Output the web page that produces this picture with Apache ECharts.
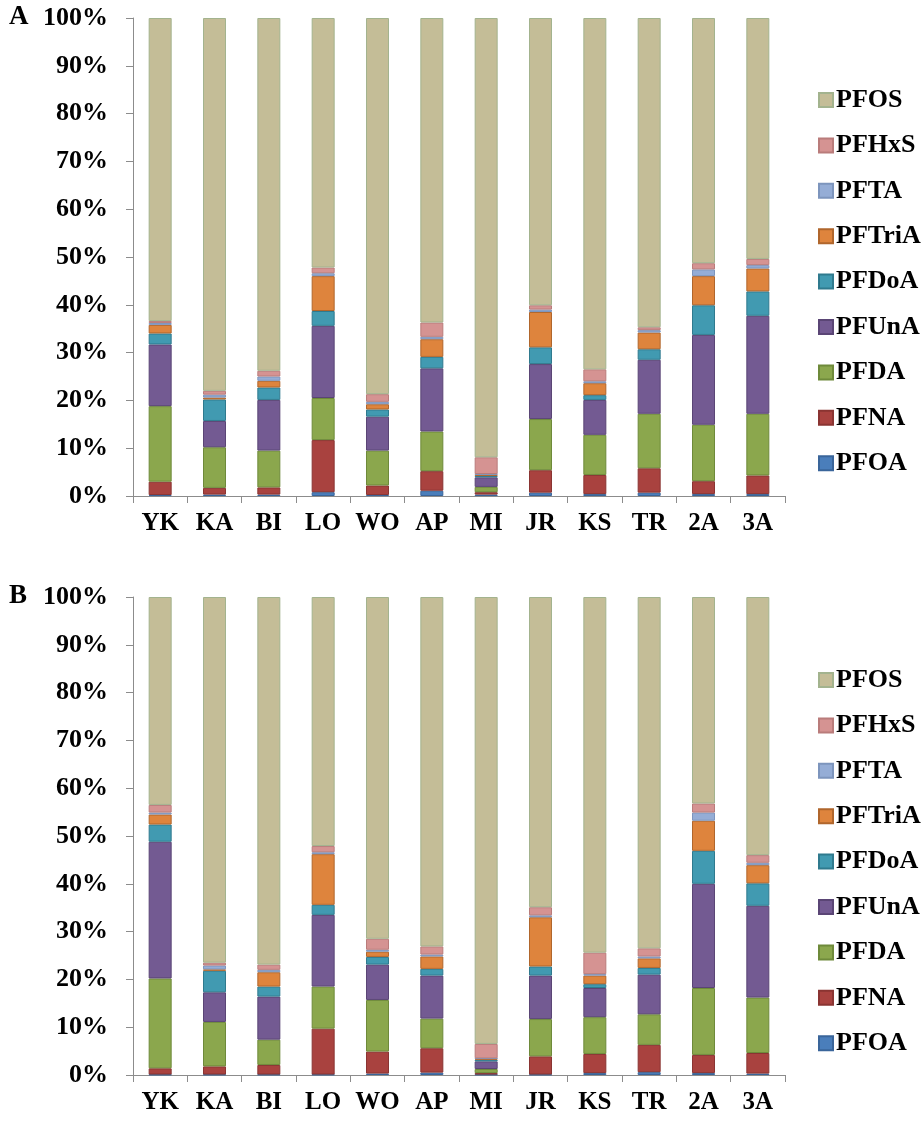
<!DOCTYPE html>
<html>
<head>
<meta charset="utf-8">
<script src="https://cdn.jsdelivr.net/npm/echarts@6/dist/echarts.min.js"></script>
<style>
html,body{margin:0;padding:0;background:#fff;}
#chart{width:922px;height:1121px;}
</style>
</head>
<body>
<div id="chart"></div>
<script>
// Categories (sampling sites)
const categories = ['YK','KA','BI','LO','WO','AP','MI','JR','KS','TR','2A','3A'];
// Y-axis tick values (percent)
const yTickMin = 0, yTickMax = 100, yTickStep = 10;
// Series names (stack order, bottom to top)
const seriesNames = ['PFOA','PFNA','PFDA','PFUnA','PFDoA','PFTriA','PFTA','PFHxS','PFOS'];

// Panel A values (%)
const PFOA_A  = [0.2, 0.3, 0.3, 0.8, 0.2, 1.1, 0.3, 0.7, 0.4, 0.7, 0.4, 0.4];
const PFNA_A  = [2.8, 1.4, 1.5, 10.9, 2.0, 4.1, 0.5, 4.7, 4.0, 5.1, 2.7, 3.9];
const PFDA_A  = [15.8, 8.5, 7.7, 8.8, 7.3, 8.3, 1.1, 10.7, 8.4, 11.4, 11.8, 12.9];
const PFUnA_A = [12.9, 5.5, 10.6, 15.1, 7.1, 13.2, 2.0, 11.5, 7.3, 11.3, 18.8, 20.5];
const PFDoA_A = [2.3, 4.5, 2.6, 3.1, 1.5, 2.4, 0.3, 3.5, 1.0, 2.2, 6.2, 5.1];
const PFTriA_A= [1.8, 0.4, 1.4, 7.3, 1.1, 3.7, 0.3, 7.4, 2.5, 3.5, 6.1, 4.8];
const PFTA_A  = [0.4, 0.6, 0.9, 0.6, 0.5, 0.5, 0.1, 0.5, 0.4, 0.5, 1.4, 0.7];
const PFHxS_A = [0.4, 0.8, 1.2, 1.2, 1.6, 3.0, 3.5, 0.9, 2.5, 0.6, 1.3, 1.3];
const PFOS_A  = [63.4, 78.0, 73.8, 52.2, 78.7, 63.7, 91.9, 60.1, 73.5, 64.7, 51.3, 50.4];

// Panel B values (%)
const PFOA_B  = [0.1, 0.1, 0.1, 0.1, 0.3, 0.5, 0.1, 0.1, 0.4, 0.6, 0.4, 0.3];
const PFNA_B  = [1.3, 1.7, 2.0, 9.6, 4.6, 5.1, 0.3, 3.8, 4.0, 5.7, 3.8, 4.3];
const PFDA_B  = [18.8, 9.3, 5.3, 8.8, 10.8, 6.2, 0.85, 7.8, 7.7, 6.4, 14.0, 11.6];
const PFUnA_B = [28.6, 6.2, 9.0, 15.0, 7.4, 9.0, 1.6, 9.1, 6.1, 8.3, 21.8, 19.2];
const PFDoA_B = [3.6, 4.5, 2.1, 2.1, 1.6, 1.4, 0.35, 1.9, 0.8, 1.4, 6.9, 4.7];
const PFTriA_B= [2.1, 0.3, 3.0, 10.6, 1.1, 2.6, 0.2, 10.3, 1.8, 2.0, 6.3, 3.8];
const PFTA_B  = [0.4, 0.8, 0.5, 0.4, 0.4, 0.4, 0.1, 0.4, 0.3, 0.4, 1.7, 0.5];
const PFHxS_B = [1.6, 0.6, 1.1, 1.3, 2.3, 1.7, 3.0, 1.7, 4.5, 1.7, 1.9, 1.6];
const PFOS_B  = [43.5, 76.5, 76.9, 52.1, 71.5, 73.1, 93.5, 64.9, 74.4, 73.5, 43.2, 54.0];

const dataA = [PFOA_A, PFNA_A, PFDA_A, PFUnA_A, PFDoA_A, PFTriA_A, PFTA_A, PFHxS_A, PFOS_A];
const dataB = [PFOA_B, PFNA_B, PFDA_B, PFUnA_B, PFDoA_B, PFTriA_B, PFTA_B, PFHxS_B, PFOS_B];

const fills   = ['#4A7EBB','#A9423F','#8BA74D','#735A92','#419AB1','#DE843D','#95ADD6','#D59392','#C4BD97'];
const borders = ['#3A659A','#8A3432','#6E8A3A','#5A4575','#2F7A8E','#B0662C','#7D95BD','#B97C7B','#A3B38E'];

const FONT = 'Liberation Serif, Times New Roman, serif';
const axisGray = '#8C8C8C';

function xAxisCfg(gi){
  return {
    type:'category', gridIndex:gi, data:categories,
    axisLine:{lineStyle:{color:axisGray,width:1}},
    axisTick:{show:true,length:7,lineStyle:{color:axisGray}},
    axisLabel:{fontFamily:FONT,fontWeight:'bold',fontSize:25,color:'#000',margin:15,interval:0}
  };
}
function yAxisCfg(gi){
  return {
    type:'value', gridIndex:gi, min:yTickMin, max:yTickMax, interval:yTickStep,
    axisLine:{show:true,lineStyle:{color:axisGray,width:1}},
    axisTick:{show:true,length:7,lineStyle:{color:axisGray}},
    splitLine:{show:false},
    axisLabel:{fontFamily:FONT,fontWeight:'bold',fontSize:26,color:'#000',margin:25,formatter:'{value}%'}
  };
}
const series = [];
[dataA, dataB].forEach((d, gi) => {
  d.forEach((vals, si) => {
    series.push({
      name: seriesNames[si], type:'bar', stack: gi===0?'A':'B',
      xAxisIndex: gi, yAxisIndex: gi, barWidth: 23,
      data: vals,
      itemStyle:{color:fills[si], borderColor:borders[si], borderWidth:1},
      emphasis:{disabled:true},
      animation:false
    });
  });
});
const legendData = seriesNames.slice().reverse();
function legendCfg(top){
  return {
    orient:'vertical', left:813, top:top, itemWidth:14, itemHeight:14, itemGap:19.4,
    icon:'rect', data:legendData, selectedMode:false,
    textStyle:{fontFamily:FONT,fontWeight:'bold',fontSize:26,color:'#000',padding:[0,0,0,-2]}
  };
}
const chart = echarts.init(document.getElementById('chart'), null, {renderer:'canvas'});
chart.setOption({
  animation:false,
  backgroundColor:'#fff',
  title:[
    {text:'A', left:9, top:4, padding:0, textStyle:{fontFamily:FONT,fontWeight:'bold',fontSize:27,color:'#000'}},
    {text:'B', left:9, top:583, padding:0, textStyle:{fontFamily:FONT,fontWeight:'bold',fontSize:27,color:'#000'}}
  ],
  grid:[
    {left:133, top:18, width:652, height:478},
    {left:133, top:597, width:652, height:478}
  ],
  xAxis:[xAxisCfg(0), xAxisCfg(1)],
  yAxis:[yAxisCfg(0), yAxisCfg(1)],
  legend:[legendCfg(82), legendCfg(662)],
  series:series
});
</script>
</body>
</html>
